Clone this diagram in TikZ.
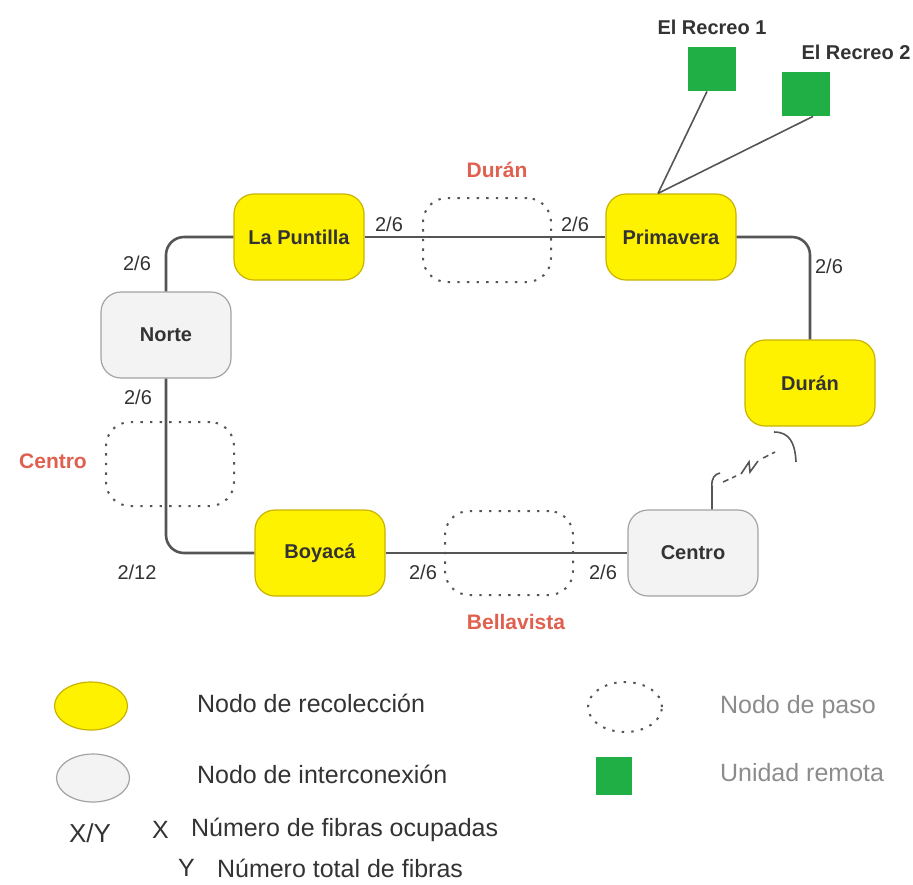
\documentclass[tikz,border=0pt]{standalone}
\usepackage{fontspec}
\setmainfont{Liberation Sans}
\usetikzlibrary{arrows.meta,shapes.geometric}
\definecolor{foYellow}{HTML}{FFF200}
\definecolor{foYellowEdge}{HTML}{C9B300}
\definecolor{foGray}{HTML}{F3F3F3}
\definecolor{foGrayEdge}{HTML}{A3A3A3}
\definecolor{foLine}{HTML}{555555}
\definecolor{foRed}{HTML}{E0604F}
\definecolor{foGreen}{HTML}{1FAF45}
\definecolor{foText}{HTML}{333333}
\definecolor{foFaint}{HTML}{8C8C8C}
\tikzset{
  fo ring/.style={draw=foLine, line width=1.3pt, rounded corners=9pt},
  fo spur/.style={draw=foLine, line width=0.8pt},
  fo collect/.style={rectangle, rounded corners=10pt, draw=foYellowEdge, fill=foYellow, line width=0.6pt, minimum width=65pt, minimum height=43pt, font=\bfseries\fontsize{10}{12}\selectfont, text=foText},
  fo inter/.style={fo collect, draw=foGrayEdge, fill=foGray},
  fo pass/.style={rectangle, rounded corners=12pt, draw=foLine, dash pattern=on 1.2pt off 3.6pt, line width=1pt, minimum width=64pt, minimum height=42pt},
  fo remote/.style={rectangle, fill=foGreen, minimum width=24pt, minimum height=22pt, inner sep=0pt},
  fo place/.style={font=\bfseries\fontsize{10.5}{12}\selectfont, text=foRed},
  fo fiber/.style={font=\fontsize{10}{12}\selectfont, text=foText},
  fo legend/.style={font=\fontsize{12.5}{15}\selectfont, text=foText, anchor=west},
}

\begin{document}
\begin{tikzpicture}[x=0.5pt,y=-0.5pt]
  \useasboundingbox (0,0) rectangle (913,884);
  % Ring nodes
  \node[fo collect] (lapuntilla) at (299,237) {La Puntilla};
  \node[fo collect] (primavera) at (671,237) {Primavera};
  \node[fo inter] (norte) at (166,335) {Norte};
  \node[fo collect] (duran) at (810,383) {Durán};
  \node[fo collect] (boyaca) at (320,553) {Boyacá};
  \node[fo inter] (centro) at (693,553) {Centro};
  % Pass nodes
  \node[fo pass] (pass duran) at (487,240) {};
  \node[fo pass] (pass centro) at (170,464) {};
  \node[fo pass] (pass bellavista) at (509,553) {};
  \node[fo place] (pass duran label) at (497,170) {Durán};
  \node[fo place] (pass centro label) at (53,461) {Centro};
  \node[fo place] (pass bellavista label) at (516,622) {Bellavista};
  % Fibre ring
  \draw[fo ring] (lapuntilla.west) -| (norte.north);
  \draw[fo ring] (norte.south) |- (boyaca.west);
  \draw[fo ring] (lapuntilla.east) -- (primavera.west);
  \draw[fo ring] (primavera.east) -| (duran.north);
  \draw[fo ring] (boyaca.east) -- (centro.west);
  \node[fo fiber] (f1) at (137,263) {2/6};
  \node[fo fiber] (f2) at (389,224) {2/6};
  \node[fo fiber] (f3) at (575,224) {2/6};
  \node[fo fiber] (f4) at (829,266) {2/6};
  \node[fo fiber] (f5) at (138,397) {2/6};
  \node[fo fiber] (f6) at (137,572) {2/12};
  \node[fo fiber] (f7) at (423,572) {2/6};
  \node[fo fiber] (f8) at (603,572) {2/6};
  % Remote units
  \node[fo remote] (recreo1) at (712,69) {};
  \node[fo remote] (recreo2) at (806,94) {};
  \node[font=\bfseries\fontsize{10}{12}\selectfont, text=foText] (recreo1 label) at (712,27) {El Recreo 1};
  \node[font=\bfseries\fontsize{10}{12}\selectfont, text=foText] (recreo2 label) at (856,52) {El Recreo 2};
  \draw[fo spur] ([xshift=-6.5pt]primavera.north) -- ([xshift=-2.5pt]recreo1.south);
  \draw[fo spur] ([xshift=-6.5pt]primavera.north) -- ([xshift=3.5pt]recreo2.south);
  % Radio link Centro - Duran
  \coordinate (stemtop) at (712,487);
  \coordinate (hookend) at (774,432);
  \draw[fo spur] ([xshift=9.5pt]centro.north) -- (stemtop) .. controls (711,478) and (715,474) .. (720,473);
  \draw[fo spur, densely dashed] (723,482) -- (736,476);
  \draw[fo spur] (741,474) -- (749,462) -- (750,472) -- (758,461);
  \draw[fo spur, densely dashed] (763,458) -- (775,452);
  \draw[fo spur] (796,462) .. controls (795,442) and (789,432) .. (hookend);
  % Legend
  \node[fo collect, ellipse, minimum width=36.5pt, minimum height=24pt] (key collect) at (91,706) {};
  \node[fo legend] (key collect text) at (190,703) {Nodo de recolección};
  \node[fo inter, ellipse, minimum width=36.5pt, minimum height=24pt] (key inter) at (93,778) {};
  \node[fo legend] (key inter text) at (190,774) {Nodo de interconexión};
  \node[font=\fontsize{13}{15}\selectfont, text=foText] (key xy) at (90,833) {X/Y};
  \node[fo legend] (key x) at (145,830) {X};
  \node[fo legend] (key x text) at (184,830) {Número de fibras ocupadas};
  \node[fo legend] (key y) at (171,868) {Y};
  \node[fo legend] (key y text) at (210,868) {Número total de fibras};
  \node[fo pass, ellipse, minimum width=37pt, minimum height=25pt] (key pass) at (625,707) {};
  \node[fo legend, text=foFaint] (key pass text) at (713,707) {Nodo de paso};
  \node[fo remote, minimum width=18pt, minimum height=19pt] (key remote) at (614,776) {};
  \node[fo legend, text=foFaint] (key remote text) at (713,773) {Unidad remota};
\end{tikzpicture}
\end{document}
